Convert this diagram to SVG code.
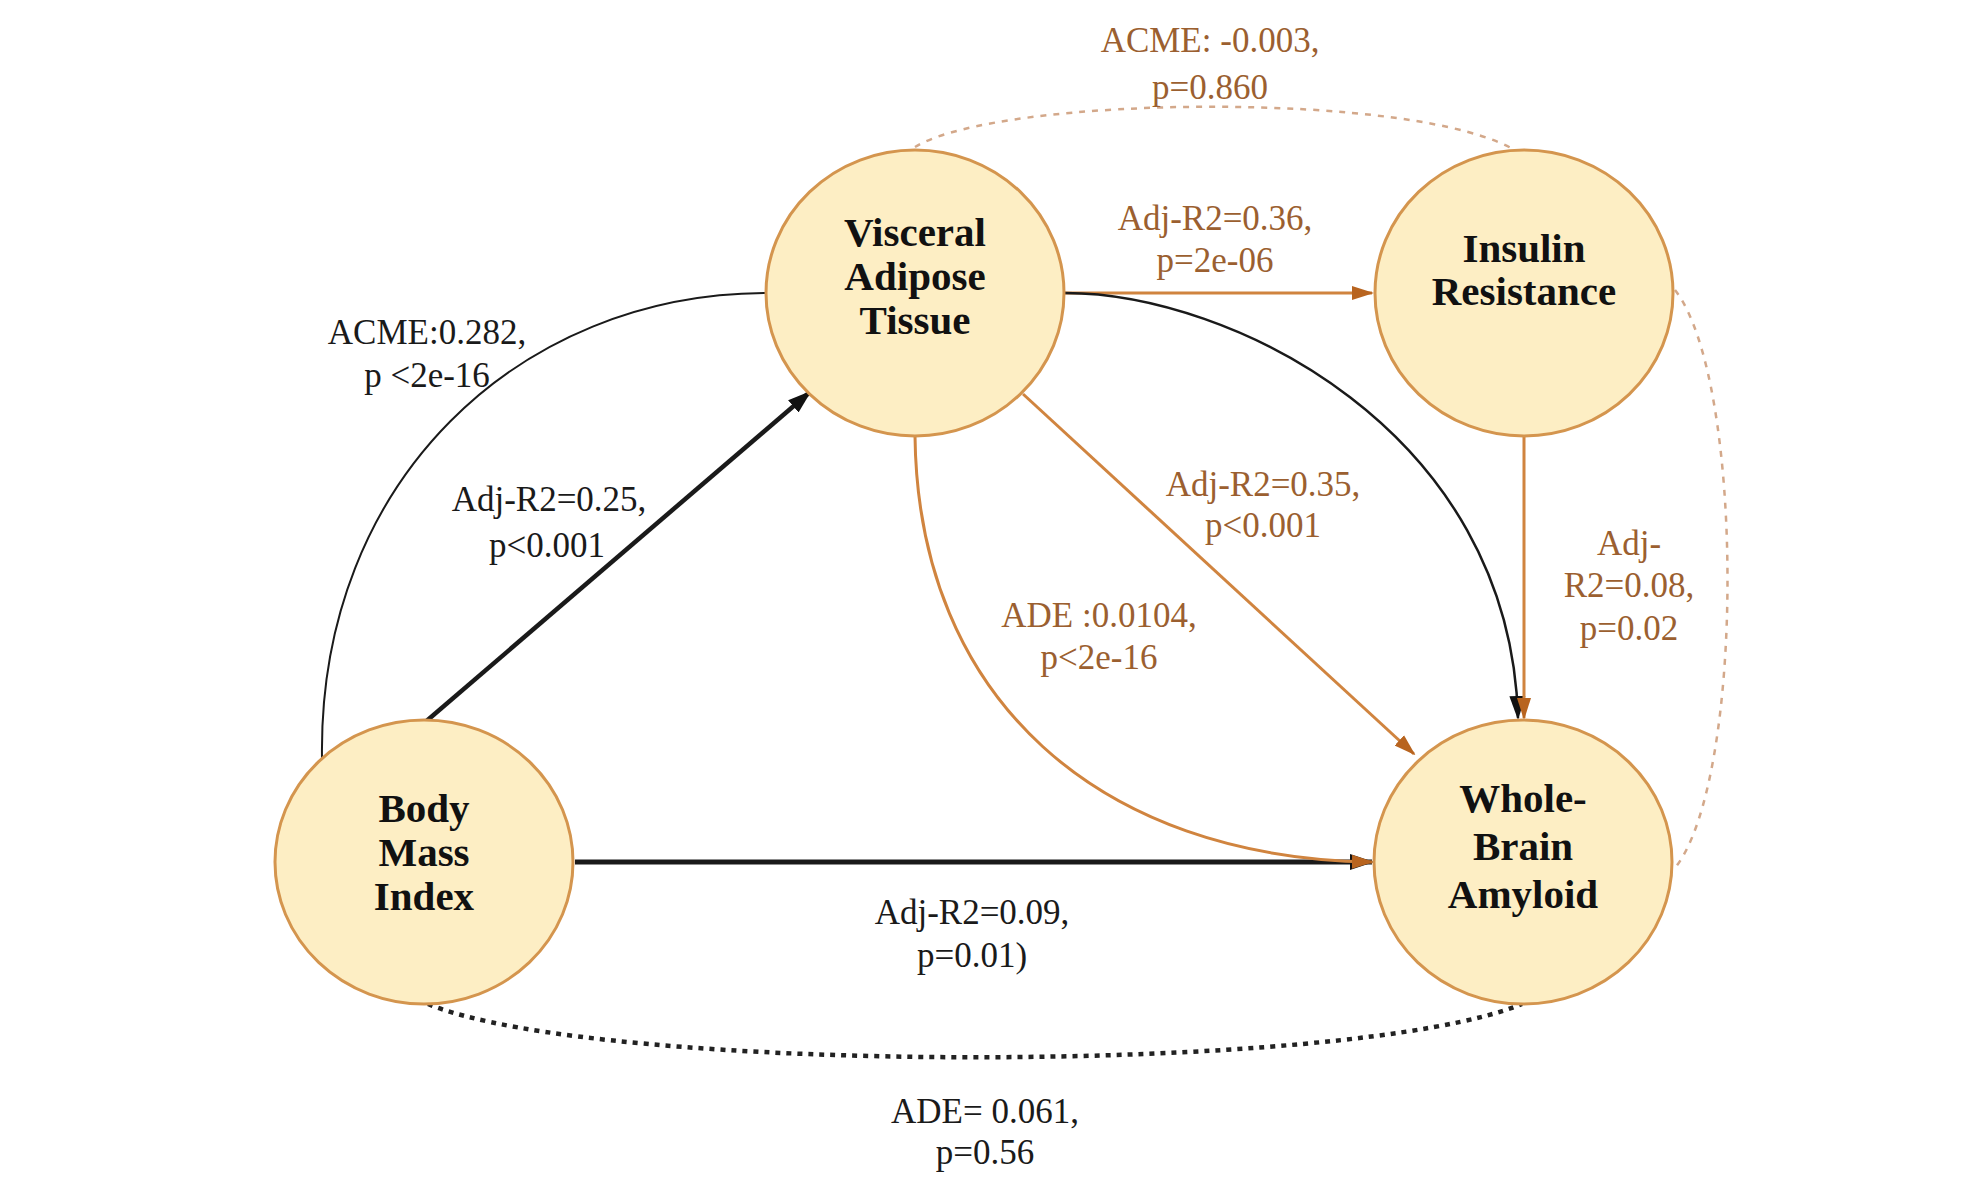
<svg xmlns="http://www.w3.org/2000/svg" width="1980" height="1200" viewBox="0 0 1980 1200">
<defs>
<style>
.node{fill:#FDEEC4;stroke:#D4954E;stroke-width:3}
.nt{font-family:"Liberation Serif","Times New Roman",serif;font-weight:bold;font-size:41px;fill:#111;text-anchor:middle}
.lb{font-family:"Liberation Serif","Times New Roman",serif;font-size:35px;text-anchor:middle}
.lk{fill:#1a1a1a}
.lo{fill:#9B5F30}
.blk{fill:none;stroke:#1a1a1a}
.org{fill:none;stroke:#D0843F;stroke-width:3}
.dl{fill:none;stroke:#D3A88A;stroke-width:2.5;stroke-dasharray:6 7}
</style>
<marker id="ak" markerUnits="userSpaceOnUse" markerWidth="24" markerHeight="20" viewBox="0 0 24 20" refX="22" refY="10" orient="auto">
<path d="M0,2 L24,10 L0,18 Z" fill="#111"/>
</marker>
<marker id="ao" markerUnits="userSpaceOnUse" markerWidth="22" markerHeight="18" viewBox="0 0 22 18" refX="20" refY="9" orient="auto">
<path d="M0,2 L22,9 L0,16 Z" fill="#B8641F"/>
</marker>
</defs>
<rect width="1980" height="1200" fill="#fff"/>
<g id="connectors">
<path class="dl" d="M915,147 C1000,95 1420,90 1518,152"/>
<path class="dl" d="M1675,290 C1745,380 1745,780 1675,868"/>
<path fill="none" stroke="#222" stroke-width="4.5" stroke-dasharray="5 6" d="M428,1004 C600,1075 1350,1075 1522,1004"/>
<path class="blk" stroke-width="2" d="M322,758 C318,480 520,293 767,293"/>
<line class="blk" stroke-width="4.5" x1="423" y1="724" x2="810" y2="392" marker-end="url(#ak)"/>
<line class="blk" stroke-width="5" x1="575" y1="862" x2="1372" y2="862" marker-end="url(#ak)"/>
<line class="org" x1="1065" y1="293" x2="1372" y2="293" marker-end="url(#ao)"/>
<path class="blk" stroke-width="2.5" d="M1065,293 C1230,293 1510,430 1518,718" marker-end="url(#ak)"/>
<line class="org" x1="1524" y1="436" x2="1524" y2="718" marker-end="url(#ao)"/>
<line class="org" x1="1023" y1="394" x2="1414" y2="754" marker-end="url(#ao)"/>
<path class="org" d="M915,436 C918,700 1100,858 1372,862" marker-end="url(#ao)"/>
</g>
<g id="n-vat"><ellipse class="node" cx="915" cy="293" rx="149" ry="143"/>
<text class="nt" x="915" y="246">Visceral</text><text class="nt" x="915" y="290">Adipose</text><text class="nt" x="915" y="334">Tissue</text></g>
<g id="n-ir"><ellipse class="node" cx="1524" cy="293" rx="149" ry="143"/>
<text class="nt" x="1524" y="262">Insulin</text><text class="nt" x="1524" y="305">Resistance</text></g>
<g id="n-bmi"><ellipse class="node" cx="424" cy="862" rx="149" ry="142"/>
<text class="nt" x="424" y="822">Body</text><text class="nt" x="424" y="866">Mass</text><text class="nt" x="424" y="910">Index</text></g>
<g id="n-wba"><ellipse class="node" cx="1523" cy="862" rx="149" ry="142"/>
<text class="nt" x="1523" y="812">Whole-</text><text class="nt" x="1523" y="860">Brain</text><text class="nt" x="1523" y="908">Amyloid</text></g>
<g id="labels">
<text class="lb lk" x="427" y="344">ACME:0.282,</text><text class="lb lk" x="427" y="387">p &lt;2e-16</text>
<text class="lb lk" x="549" y="511">Adj-R2=0.25,</text><text class="lb lk" x="547" y="557">p&lt;0.001</text>
<text class="lb lo" x="1215" y="230">Adj-R2=0.36,</text><text class="lb lo" x="1215" y="272">p=2e-06</text>
<text class="lb lo" x="1210" y="52">ACME: -0.003,</text><text class="lb lo" x="1210" y="99">p=0.860</text>
<text class="lb lo" x="1263" y="496">Adj-R2=0.35,</text><text class="lb lo" x="1263" y="537">p&lt;0.001</text>
<text class="lb lo" x="1099" y="627">ADE :0.0104,</text><text class="lb lo" x="1099" y="669">p&lt;2e-16</text>
<text class="lb lo" x="1629" y="555">Adj-</text><text class="lb lo" x="1629" y="597">R2=0.08,</text><text class="lb lo" x="1629" y="640">p=0.02</text>
<text class="lb lk" x="972" y="924">Adj-R2=0.09,</text><text class="lb lk" x="972" y="967">p=0.01)</text>
<text class="lb lk" x="985" y="1123">ADE= 0.061,</text><text class="lb lk" x="985" y="1164">p=0.56</text>
</g>
</svg>
